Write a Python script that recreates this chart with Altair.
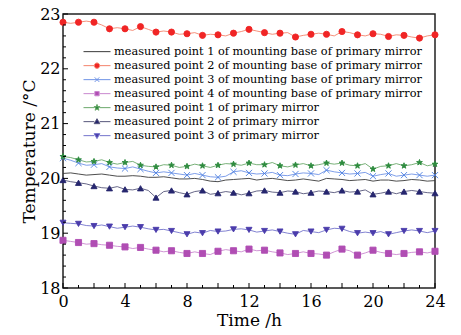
import math
import altair as alt
import pandas as pd

# ---------------- data ----------------
hours = list(range(25))
half_hours = [h + 0.5 for h in range(24)]

names = [
    "measured point 1 of mounting base of primary mirror",
    "measured point 2 of mounting base of primary mirror",
    "measured point 3 of mounting base of primary mirror",
    "measured point 4 of mounting base of primary mirror",
    "measured point 1 of primary mirror",
    "measured point 2 of primary mirror",
    "measured point 3 of primary mirror",
]

# values at whole hours (where the markers sit)
base1 = [20.09, 20.08, 20.07, 20.06, 20.04, 20.04, 20.02, 20.01, 19.99, 19.98, 19.94, 19.98, 20.00,
         19.99, 19.98, 19.97, 19.97, 20.00, 19.98, 19.97, 19.95, 19.97, 19.96, 19.97, 19.96]
base2 = [22.85, 22.85, 22.85, 22.73, 22.73, 22.77, 22.67, 22.67, 22.64, 22.61, 22.62, 22.65, 22.72,
         22.66, 22.65, 22.58, 22.63, 22.63, 22.68, 22.62, 22.64, 22.59, 22.61, 22.56, 22.62]
base3 = [20.37, 20.28, 20.25, 20.21, 20.18, 20.17, 20.10, 20.10, 20.06, 20.06, 20.02, 20.12, 20.10,
         20.09, 20.06, 20.08, 20.09, 20.15, 20.10, 20.09, 20.04, 20.09, 20.06, 20.06, 20.06]
base4 = [18.87, 18.83, 18.81, 18.78, 18.75, 18.74, 18.69, 18.68, 18.63, 18.63, 18.67, 18.68, 18.71,
         18.69, 18.64, 18.63, 18.63, 18.60, 18.71, 18.60, 18.69, 18.63, 18.63, 18.66, 18.67]
mirror1 = [20.40, 20.34, 20.31, 20.29, 20.29, 20.24, 20.21, 20.24, 20.22, 20.23, 20.24, 20.26, 20.28,
           20.25, 20.23, 20.245, 20.23, 20.28, 20.28, 20.23, 20.17, 20.23, 20.23, 20.29, 20.26]
mirror2 = [19.97, 19.92, 19.86, 19.82, 19.80, 19.82, 19.65, 19.78, 19.71, 19.78, 19.73, 19.74, 19.73,
           19.78, 19.74, 19.76, 19.74, 19.76, 19.78, 19.76, 19.71, 19.76, 19.76, 19.76, 19.73]
mirror3 = [19.19, 19.17, 19.13, 19.12, 19.11, 19.11, 19.06, 19.04, 18.98, 19.00, 19.03, 19.07, 19.06,
           19.04, 19.03, 18.98, 19.03, 19.06, 19.08, 19.00, 19.00, 18.98, 19.04, 19.04, 19.04]

# values between the markers (half hours)
base1_h = [20.10, 20.06, 20.08, 20.04, 20.05, 20.02, 20.03, 19.99, 20.00, 19.95, 19.97, 19.99,
           19.97, 20.00, 19.96, 19.99, 19.95, 19.99, 19.96, 19.98, 19.97, 19.95, 19.98, 19.95]
base2_h = [22.83, 22.87, 22.80, 22.75, 22.70, 22.72, 22.69, 22.63, 22.66, 22.63, 22.60, 22.68,
           22.69, 22.63, 22.66, 22.61, 22.65, 22.60, 22.66, 22.60, 22.63, 22.62, 22.58, 22.60]
base3_h = [20.33, 20.24, 20.27, 20.19, 20.21, 20.13, 20.12, 20.08, 20.09, 20.03, 20.04, 20.14,
           20.08, 20.11, 20.05, 20.10, 20.07, 20.12, 20.08, 20.11, 20.07, 20.04, 20.08, 20.04]
base4_h = [18.85, 18.80, 18.79, 18.76, 18.72, 18.71, 18.66, 18.65, 18.66, 18.61, 18.70, 18.66,
           18.68, 18.66, 18.61, 18.66, 18.62, 18.66, 18.68, 18.64, 18.65, 18.61, 18.65, 18.64]
mirror1_h = [20.38, 20.30, 20.34, 20.26, 20.31, 20.22, 20.25, 20.20, 20.26, 20.20, 20.27, 20.24,
             20.25, 20.29, 20.21, 20.27, 20.25, 20.26, 20.24, 20.27, 20.22, 20.27, 20.25, 20.23]
mirror2_h = [19.94, 19.90, 19.83, 19.85, 19.79, 19.78, 19.76, 19.74, 19.76, 19.71, 19.76, 19.70,
             19.77, 19.75, 19.77, 19.72, 19.77, 19.74, 19.75, 19.79, 19.73, 19.72, 19.78, 19.74]
mirror3_h = [19.18, 19.14, 19.15, 19.09, 19.13, 19.08, 19.07, 19.01, 19.02, 19.05, 19.04, 19.08,
             19.02, 19.06, 19.00, 19.05, 19.01, 19.09, 19.03, 19.02, 19.03, 19.01, 19.06, 19.01]

all_series = [base1, base2, base3, base4, mirror1, mirror2, mirror3]
all_half = [base1_h, base2_h, base3_h, base4_h, mirror1_h, mirror2_h, mirror3_h]

line_colors = ["#3a3a3a", "#f4836c", "#6f93e6", "#c987cf", "#6aa86a", "#56567a", "#7474cc"]
marker_colors = ["#3a3a3a", "#f02525", "#4a7ee0", "#b04db3", "#2e8b3e", "#26266e", "#4b3cab"]

x_major = list(range(0, 25, 2))
x_minor = list(range(1, 24, 2))
y_major = [18, 19, 20, 21, 22, 23]
y_minor = [round(18 + 0.2 * i, 1) for i in range(26) if i % 5 != 0]

FONT = "DejaVu Serif"
W, H = 372, 274

# ---------------- shapes ----------------
def star(R=1.0, r=0.42):
    pts = []
    for i in range(10):
        a = math.radians(-90 + 36 * i)
        rad = R if i % 2 == 0 else r
        pts.append((rad * math.cos(a), rad * math.sin(a)))
    return "M" + "L".join(f"{x:.3f},{y:.3f}" for x, y in pts) + "Z"

X_PATH = "M-1,-1L1,1M-1,1L1,-1"
plot_shapes = ["circle", "circle", X_PATH, "square", star(), "triangle-up", "triangle-down"]

m = 0.2
LINE = "M-1,0H1"
BROKEN = f"M-1,0H-{m}M{m},0H1"
legend_shapes = [
    LINE,
    BROKEN + f"M{m},0A{m},{m} 0 1,1 -{m},0A{m},{m} 0 1,1 {m},0Z",
    LINE + "M-0.17,-0.17L0.17,0.17M-0.17,0.17L0.17,-0.17",
    BROKEN + "M-0.16,-0.16H0.16V0.16H-0.16Z",
    BROKEN + star(0.24, 0.1),
    BROKEN + "M0,-0.22L0.21,0.15L-0.21,0.15Z",
    BROKEN + "M0,0.22L0.21,-0.15L-0.21,-0.15Z",
]

# ---------------- tables ----------------
pt_rows, line_rows = [], []
for name, vals, hv in zip(names, all_series, all_half):
    for t, v in zip(hours, vals):
        pt_rows.append({"series": name, "t": t, "temp": v})
        line_rows.append({"series": name, "t": t, "temp": v})
    for t, v in zip(half_hours, hv):
        line_rows.append({"series": name, "t": t, "temp": v})
df_pts_all = pd.DataFrame(pt_rows)
df_line = pd.DataFrame(line_rows)
df_pts = df_pts_all[df_pts_all["series"] != names[0]]

xscale = alt.Scale(domain=[0, 24], nice=False, zero=False)
yscale = alt.Scale(domain=[18, 23], nice=False, zero=False)

xenc = alt.X("t:Q", scale=xscale, axis=alt.Axis(
    title="Time /h", values=x_major, ticks=False, domain=False, grid=False,
    labelFlush=False, labelOverlap=False,
    labelFont=FONT, labelFontSize=16, labelColor="black", labelPadding=5,
    titleFont=FONT, titleFontSize=17, titleFontWeight="normal", titleColor="black", titlePadding=3))
yenc = alt.Y("temp:Q", scale=yscale, axis=alt.Axis(
    title="Temperature /°C", values=y_major, ticks=False, domain=False, grid=False,
    labelFlush=False, labelOverlap=False,
    labelFont=FONT, labelFontSize=16, labelColor="black", labelPadding=3,
    titleFont=FONT, titleFontSize=17, titleFontWeight="normal", titleColor="black", titlePadding=1))

lines = alt.Chart(df_line).mark_line(strokeWidth=0.9).encode(
    x=xenc, y=yenc,
    stroke=alt.Stroke("series:N", scale=alt.Scale(domain=names, range=line_colors), legend=None),
    detail="series:N",
    order="t:Q",
)

pts_names = names[1:]
points = alt.Chart(df_pts).mark_point(filled=False, opacity=1, strokeWidth=0.9).encode(
    x=alt.X("t:Q", scale=xscale),
    y=alt.Y("temp:Q", scale=yscale),
    shape=alt.Shape("series:N", scale=alt.Scale(domain=pts_names, range=plot_shapes[1:]), legend=None),
    fill=alt.Fill("series:N", scale=alt.Scale(domain=pts_names, range=marker_colors[1:]), legend=None),
    stroke=alt.Stroke("series:N", scale=alt.Scale(domain=pts_names, range=marker_colors[1:]), legend=None),
    size=alt.Size("series:N", scale=alt.Scale(domain=pts_names, range=[38, 36, 28, 70, 55, 55]), legend=None),
)

leg = alt.Legend(title=None, orient="none", legendX=20, legendY=31,
                 symbolSize=729, clipHeight=13.3, rowPadding=0, symbolStrokeWidth=1,
                 labelFont=FONT, labelFontSize=11.3, labelColor="black", labelOffset=3,
                 labelLimit=400)
legend_layer = alt.Chart(df_pts_all).transform_filter("false").mark_point(opacity=1).encode(
    x=alt.X("t:Q", scale=xscale),
    y=alt.Y("temp:Q", scale=yscale),
    shape=alt.Shape("series:N", scale=alt.Scale(domain=names, range=legend_shapes), legend=leg),
    fill=alt.Fill("series:N", scale=alt.Scale(domain=names, range=marker_colors), legend=leg),
    stroke=alt.Stroke("series:N", scale=alt.Scale(domain=names, range=line_colors), legend=leg),
)

# inward axis ticks (axis decoration)
xt_major = pd.DataFrame({"v": x_major})
xt_minor = pd.DataFrame({"v": x_minor})
yt_major = pd.DataFrame({"v": y_major})
yt_minor = pd.DataFrame({"v": y_minor})
xticks = alt.Chart(xt_major).mark_rule(color="black", strokeWidth=1).encode(
    x=alt.X("v:Q", scale=xscale), y=alt.value(H), y2=alt.value(H - 5))
xticks_minor = alt.Chart(xt_minor).mark_rule(color="black", strokeWidth=1).encode(
    x=alt.X("v:Q", scale=xscale), y=alt.value(H), y2=alt.value(H - 3))
yticks = alt.Chart(yt_major).mark_rule(color="black", strokeWidth=1).encode(
    y=alt.Y("v:Q", scale=yscale), x=alt.value(0), x2=alt.value(5))
yticks_minor = alt.Chart(yt_minor).mark_rule(color="black", strokeWidth=1).encode(
    y=alt.Y("v:Q", scale=yscale), x=alt.value(0), x2=alt.value(3))

chart = alt.layer(
    lines, points, legend_layer, xticks, xticks_minor, yticks, yticks_minor
).resolve_scale(
    shape="independent", fill="independent", stroke="independent", size="independent"
).properties(
    width=W, height=H,
    autosize=alt.AutoSizeParams(type="none"),
    padding={"left": 63, "top": 14, "right": 26, "bottom": 47},
    background="white",
).configure_view(stroke="#222222", strokeWidth=1.5)

chart.save("out.html", embed_options={"renderer": "svg", "actions": False})
